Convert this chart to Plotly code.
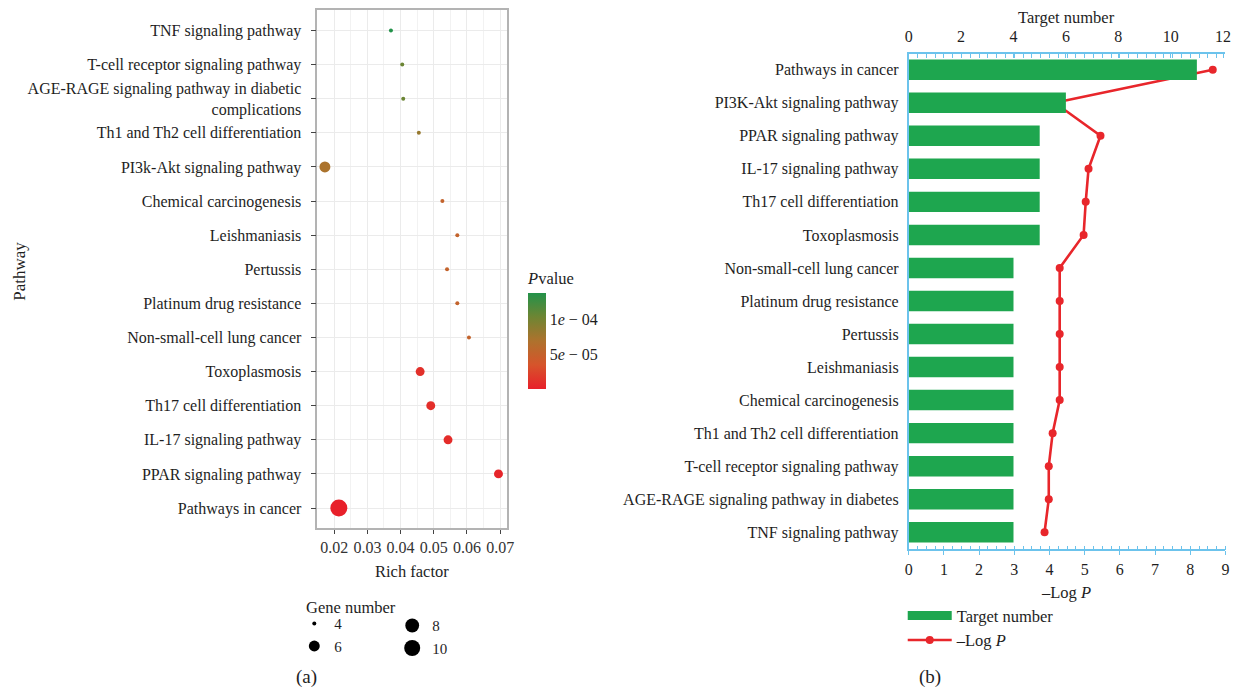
import plotly.graph_objects as go

PAGE_W, PAGE_H = 1239, 692
OFF = 8                      # default body margin of the page
W, H = PAGE_W - OFF, PAGE_H - OFF
FONT = "Liberation Serif"
SX, BX = 0.992, 2.5          # observed horizontal rendering scale / offset

def px(x):
    return ((x - BX) / SX - OFF) / W

def py(y):
    return 1 - (y - OFF) / H

# ---------------- Data: panel (a) ----------------
a_pathways = [
    "TNF signaling pathway",
    "T-cell receptor signaling pathway",
    "AGE-RAGE signaling pathway in diabetic<br>complications",
    "Th1 and Th2 cell differentiation",
    "PI3k-Akt signaling pathway",
    "Chemical carcinogenesis",
    "Leishmaniasis",
    "Pertussis",
    "Platinum drug resistance",
    "Non-small-cell lung cancer",
    "Toxoplasmosis",
    "Th17 cell differentiation",
    "IL-17 signaling pathway",
    "PPAR signaling pathway",
    "Pathways in cancer",
]
a_rich_factor = [0.0371, 0.0405, 0.0408, 0.0455, 0.0172, 0.0526, 0.0571, 0.0540,
                 0.0571, 0.0606, 0.0459, 0.0491, 0.0543, 0.0695, 0.0214]
a_gene_number = [4, 4, 4, 4, 6, 4, 4, 4, 4, 4, 5, 5, 5, 5, 11]
a_neg_log_p = [3.86, 3.98, 3.98, 4.09, 4.15, 4.29, 4.29, 4.29, 4.29, 4.29,
               4.97, 5.03, 5.11, 5.45, 8.64]
a_pvalue = [10 ** (-v) for v in a_neg_log_p]
size_legend_values = [4, 6, 8, 10]
x_ticks_a = [0.02, 0.03, 0.04, 0.05, 0.06, 0.07]
pvalue_ticks = [1e-4, 5e-5]
pvalue_ticktext = ["1<i>e</i> \u2212 04", "5<i>e</i> \u2212 05"]

# ---------------- Data: panel (b) ----------------
b_pathways = [
    "Pathways in cancer",
    "PI3K-Akt signaling pathway",
    "PPAR signaling pathway",
    "IL-17 signaling pathway",
    "Th17 cell differentiation",
    "Toxoplasmosis",
    "Non-small-cell lung cancer",
    "Platinum drug resistance",
    "Pertussis",
    "Leishmaniasis",
    "Chemical carcinogenesis",
    "Th1 and Th2 cell differentiation",
    "T-cell receptor signaling pathway",
    "AGE-RAGE signaling pathway in diabetes",
    "TNF signaling pathway",
]
b_target_number = [11, 6, 5, 5, 5, 5, 4, 4, 4, 4, 4, 4, 4, 4, 4]
b_neg_log_p = [8.64, 4.15, 5.45, 5.11, 5.03, 4.97, 4.29, 4.29, 4.29, 4.29,
               4.29, 4.09, 3.98, 3.98, 3.86]

# size mapping (ggplot-like area scale)
gmin, gmax = min(a_gene_number), max(a_gene_number)

def gsize(v):
    return 4 + 13 * ((v - gmin) / (gmax - gmin)) ** 0.5

colorscale = [
    [0.0, "#E8202A"],
    [0.25, "#D6542B"],
    [0.5, "#AE722D"],
    [0.75, "#6E8533"],
    [1.0, "#23924A"],
]

BLUE = "#6CC3EC"
GREEN = "#1EA64F"
RED = "#E8262B"
TXT = "#1e1e1e"
TICK = 16
TITLE = 16.5

fig = go.Figure()

# Panel (a) dot plot
fig.add_trace(go.Scatter(
    x=a_rich_factor, y=a_pathways, mode="markers",
    marker=dict(
        size=[gsize(v) for v in a_gene_number], opacity=1,
        color=a_pvalue, colorscale=colorscale,
        cmin=min(a_pvalue), cmax=max(a_pvalue),
        line=dict(width=0),
        colorbar=dict(
            x=px(527), xanchor="left", xpad=0,
            y=py(388), yanchor="bottom", ypad=0,
            len=120, lenmode="pixels", thickness=18,
            outlinewidth=0,
            tickvals=pvalue_ticks, ticktext=pvalue_ticktext,
            ticks="", ticklabelposition="outside",
            tickfont=dict(family=FONT, size=TICK, color=TXT),
            title=dict(text="<i>P</i>value", side="top",
                       font=dict(family=FONT, size=TITLE, color=TXT)),
        ),
    ),
    showlegend=False, xaxis="x", yaxis="y",
))

# Size legend entries (two columns)
for i, v in enumerate(size_legend_values):
    fig.add_trace(go.Scatter(
        x=[None], y=[None], mode="markers", name=str(v),
        marker=dict(size=gsize(v), color="black"),
        legend="legend2" if i < 2 else "legend3",
        xaxis="x", yaxis="y",
    ))

# Panel (b) bars
fig.add_trace(go.Bar(
    x=b_target_number, y=b_pathways, orientation="h",
    marker=dict(color=GREEN, line=dict(width=0)), width=0.62,
    name="Target number", xaxis="x3", yaxis="y2", showlegend=False,
))
# legend swatch for the bars (wide green band)
fig.add_trace(go.Scatter(
    x=[None], y=[None], mode="lines", name="Target number",
    line=dict(color=GREEN, width=9), xaxis="x3", yaxis="y2", legend="legend",
))
# Panel (b) line
fig.add_trace(go.Scatter(
    x=b_neg_log_p, y=b_pathways, mode="lines+markers",
    line=dict(color=RED, width=2.6), marker=dict(color=RED, size=8),
    name="\u2013Log <i>P</i>", xaxis="x2", yaxis="y2", legend="legend",
))

tickfont = dict(family=FONT, size=TICK, color=TXT)

def ann(text, x, y, size=TITLE, angle=0):
    return dict(text=text, x=px(x), y=py(y), xref="paper", yref="paper",
                xanchor="center", yanchor="middle", textangle=angle,
                showarrow=False, font=dict(family=FONT, size=size, color=TXT))

fig.update_layout(
    width=W, height=H,
    margin=dict(l=0, r=0, t=0, b=0),
    paper_bgcolor="white", plot_bgcolor="white",
    font=dict(family=FONT, size=TICK, color=TXT),
    xaxis=dict(
        domain=[px(316), px(506)], range=[0.0149, 0.0721],
        tickvals=x_ticks_a, tickformat=".2f",
        ticks="outside", ticklen=4, tickcolor="#444",
        showline=True, mirror=True, linecolor="#B3B3B3", linewidth=1.5,
        showgrid=True, gridcolor="#EBEBEB", gridwidth=1,
        minor=dict(dtick=0.005, tick0=0.0, showgrid=True, gridcolor="#F2F2F2", ticks=""),
        zeroline=False, tickfont=dict(family=FONT, size=TICK, color="#333"),
        anchor="y",
    ),
    yaxis=dict(
        domain=[py(528), py(8)], type="category",
        categoryorder="array", categoryarray=a_pathways,
        range=[14.6, -0.6],
        ticks="outside", ticklen=5, tickcolor="#444", ticklabelstandoff=6,
        showline=True, mirror=True, linecolor="#B3B3B3", linewidth=1.5,
        showgrid=True, gridcolor="#EBEBEB",
        zeroline=False, tickfont=tickfont, anchor="x",
    ),
    xaxis2=dict(
        domain=[px(908), px(1225)], range=[0, 9], dtick=1, tick0=0,
        ticks="outside", ticklen=4, tickcolor=BLUE, tickwidth=1.2,
        minor=dict(dtick=0.25, ticks="inside", ticklen=4, tickcolor=BLUE),
        showline=True, linecolor=BLUE, linewidth=1.8,
        showgrid=False, zeroline=False, tickfont=tickfont,
        anchor="y2", side="bottom",
    ),
    xaxis3=dict(
        overlaying="x2", side="top", range=[0, 12.09], dtick=2, tick0=0,
        ticks="inside", ticklen=4, tickcolor=BLUE, tickwidth=1.2,
        minor=dict(dtick=12.09 / 36, tick0=0, ticks="inside", ticklen=4, tickcolor=BLUE),
        showline=True, linecolor=BLUE, linewidth=1.8,
        showgrid=False, zeroline=False, tickfont=tickfont, ticklabelstandoff=4,
        anchor="y2",
    ),
    yaxis2=dict(
        domain=[py(549), py(52)], type="category",
        categoryorder="array", categoryarray=b_pathways,
        range=[14.52, -0.48],
        ticks="", showline=True, linecolor=BLUE, linewidth=1.8,
        showgrid=False, zeroline=False, tickfont=tickfont,
        anchor="x2", ticklabelstandoff=5,
    ),
    legend=dict(
        x=px(902), y=py(598), xanchor="left", yanchor="top",
        font=dict(family=FONT, size=TITLE, color=TXT),
        bgcolor="rgba(0,0,0,0)", tracegroupgap=0, itemwidth=44,
    ),
    legend2=dict(
        x=px(293), y=py(607), xanchor="left", yanchor="top",
        font=dict(family=FONT, size=15, color=TXT),
        bgcolor="rgba(0,0,0,0)", itemsizing="trace",
    ),
    legend3=dict(
        x=px(391), y=py(609), xanchor="left", yanchor="top",
        font=dict(family=FONT, size=15, color=TXT),
        bgcolor="rgba(0,0,0,0)", itemsizing="trace",
    ),
    annotations=[
        ann("Pathway", 18, 270, size=17, angle=-90),
        ann("Rich factor", 411, 571),
        ann("Gene number", 350, 607),
        ann("Target number", 1066, 16),
        ann("\u2013Log <i>P</i>", 1065, 592),
        ann("(a)", 305, 677, size=19),
        ann("(b)", 929, 677, size=19),
    ],
)

fig.write_html("out.html")
